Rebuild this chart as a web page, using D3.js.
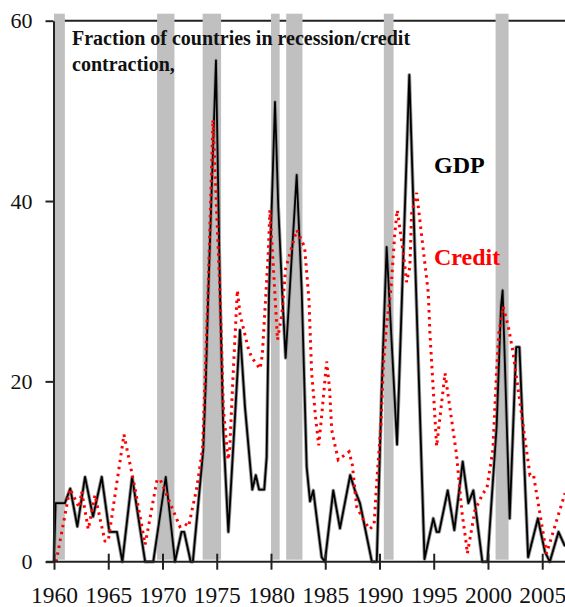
<!DOCTYPE html>
<html>
<head>
<meta charset="utf-8">
<script src="https://cdn.jsdelivr.net/npm/d3@7"></script>
<style>
  html, body { margin: 0; padding: 0; background: #fff; }
  #chart svg { display: block; }
  text { font-family: 'Liberation Serif', 'Times New Roman', serif; }
</style>
</head>
<body>
<div id="chart"></div>
<script>
// share of countries in recession (GDP) / credit contraction, by year
const gdpYears = [1960.0, 1960.15, 1961.0, 1961.5, 1962.15, 1962.86, 1963.6, 1964.4, 1965.1, 1965.8,
  1966.3, 1967.2, 1968.4, 1969.15, 1970.3, 1971.15, 1971.75, 1972.0, 1972.6, 1972.8,
  1973.76, 1974.0, 1974.22, 1974.93, 1975.3, 1975.6, 1976.07, 1977.14, 1977.6, 1978.28,
  1978.6, 1978.9, 1979.38, 1979.6, 1979.82, 1980.37, 1980.67, 1981.05, 1981.35, 1982.37,
  1982.83, 1983.29, 1983.6, 1983.9, 1984.67, 1984.97, 1985.74, 1986.36, 1987.3, 1987.74,
  1988.2, 1989.3, 1989.75, 1990.2, 1990.66, 1991.62, 1992.75, 1994.15, 1994.96, 1995.27,
  1995.5, 1996.29, 1996.9, 1997.67, 1998.19, 1998.65, 1999.48, 1999.95, 2000.8, 2001.2,
  2001.35, 2002.0, 2002.6, 2002.9, 2003.7, 2004.6, 2005.25, 2005.7, 2006.5, 2007.1];
const gdpValues = [0, 6.5, 6.5, 8.1, 3.9, 9.4, 5.0, 9.4, 3.3, 3.3,
  0, 9.4, 0, 0, 9.4, 0, 3.3, 3.3, 0, 0,
  12.4, 20.2, 29.8, 55.6, 29.8, 14.5, 3.3, 25.7, 17.2, 8.0,
  9.6, 8.0, 8.0, 11.6, 29.8, 51.0, 39.4, 29.4, 22.6, 42.9,
  30.1, 10.5, 6.7, 7.9, 0.5, 0, 7.9, 3.7, 9.6, 7.9,
  6.5, 0, 0, 19.0, 34.9, 13.0, 54.0, 0.3, 4.8, 3.3,
  3.3, 7.9, 3.5, 11.1, 6.5, 7.9, 0, 0, 15.0, 28.3,
  30.1, 4.8, 23.8, 23.8, 0.5, 4.8, 1.1, 0, 3.3, 1.7];

const creditYears = [1960.2, 1961.47, 1962.33, 1962.55, 1963.16, 1963.78, 1964.4, 1964.7, 1965.0, 1966.45,
  1967.47, 1968.4, 1969.5, 1969.8, 1971.6, 1972.07, 1972.4, 1973.15, 1973.7, 1974.2,
  1974.65, 1975.3, 1975.6, 1975.9, 1976.05, 1976.2, 1976.5, 1976.9, 1977.15, 1977.9,
  1978.2, 1978.99, 1979.2, 1979.75, 1979.9, 1980.3, 1980.6, 1981.0, 1981.35, 1982.37,
  1983.1, 1983.5, 1983.75, 1984.1, 1984.4, 1984.65, 1985.13, 1985.4, 1985.6, 1985.9,
  1986.2, 1987.2, 1987.5, 1987.9, 1988.5, 1989.1, 1989.5, 1989.74, 1990.14, 1990.35,
  1990.66, 1991.0, 1991.1, 1991.4, 1991.64, 1992.2, 1992.5, 1992.8, 1992.96, 1993.43,
  1994.5, 1994.65, 1995.27, 1996.04, 1997.1, 1997.6, 1998.0, 1998.1, 1998.8, 1999.55,
  1999.9, 2000.45, 2000.8, 2001.0, 2001.4, 2001.87, 2002.3, 2003.87, 2004.2, 2005.4,
  2007.1];
const creditValues = [0, 8.1, 6.0, 7.8, 3.6, 7.4, 3.9, 2.3, 2.3, 14.1,
  8.1, 1.9, 9.1, 9.1, 3.9, 4.2, 3.9, 8.1, 12.6, 29.8,
  49.0, 29.8, 17.2, 13.1, 11.3, 12.6, 20.5, 30.1, 27.4, 23.7,
  22.7, 21.4, 22.9, 34.2, 39.0, 31.0, 24.6, 27.4, 32.5, 36.8,
  34.9, 29.0, 20.9, 16.1, 12.9, 15.9, 22.2, 19.2, 14.6, 12.9,
  11.3, 12.2, 10.7, 6.1, 4.7, 3.6, 4.1, 8.7, 15.3, 21.6,
  26.4, 29.6, 30.9, 36.2, 39.0, 34.2, 31.0, 32.7, 38.6, 40.9,
  29.8, 25.3, 12.8, 20.9, 11.9, 5.5, 2.0, 0.9, 5.7, 7.6,
  8.1, 12.4, 21.3, 25.3, 28.3, 26.1, 23.3, 9.6, 9.6, 0.9,
  7.6];

// shaded periods
const bandStarts = [1960.0, 1969.5, 1973.7, 1980.0, 1981.4, 1990.4, 2000.7];
const bandEnds   = [1961.0, 1971.1, 1975.4, 1980.8, 1982.9, 1991.3, 2001.9];

const xTicks = [1960, 1965, 1970, 1975, 1980, 1985, 1990, 1995, 2000, 2005];
const yTicks = [0, 20, 40, 60];

const titleLines = ['Fraction of countries in recession/credit', 'contraction,'];
const seriesLabels = ['GDP', 'Credit'];

const width = 565;
const height = 607;

const svg = d3.select('#chart')
  .append('svg')
  .attr('width', width)
  .attr('height', height);

const x = d3.scaleLinear()
  .domain([1960, 2007.1])
  .range([54, 565]);

const y = d3.scaleLinear()
  .domain([0, 60])
  .range([561.7, 20.7]);

const gdp = gdpYears.map((d, i) => ({ year: d, value: gdpValues[i] }));
const credit = creditYears.map((d, i) => ({ year: d, value: creditValues[i] }));
const bands = bandStarts.map((d, i) => ({ start: d, end: bandEnds[i] }));

// top frame line
svg.append('line')
  .attr('x1', x(1960)).attr('x2', width)
  .attr('y1', y(60)).attr('y2', y(60))
  .attr('stroke', '#222')
  .attr('stroke-width', 2);

// recession bands
svg.append('g')
  .selectAll('rect')
  .data(bands)
  .enter()
  .append('rect')
  .attr('x', d => x(d.start))
  .attr('width', d => x(d.end) - x(d.start))
  .attr('y', y(60) - 7)
  .attr('height', y(0) - y(60) + 5)
  .attr('fill', '#c0c0c0');

// title
svg.append('g')
  .selectAll('text')
  .data(titleLines)
  .enter()
  .append('text')
  .attr('x', 72)
  .attr('y', (d, i) => 45 + i * 26)
  .attr('font-size', 20)
  .attr('font-weight', 'bold')
  .attr('fill', '#111')
  .text(d => d);

const line = d3.line()
  .x(d => x(d.year))
  .y(d => y(d.value));

// GDP: black line with a soft grey edge
svg.append('path')
  .datum(gdp)
  .attr('d', line)
  .attr('fill', 'none')
  .attr('stroke', '#999')
  .attr('stroke-width', 3.6)
  .attr('stroke-linejoin', 'round');

svg.append('path')
  .datum(gdp)
  .attr('d', line)
  .attr('fill', 'none')
  .attr('stroke', '#000')
  .attr('stroke-width', 1.8)
  .attr('stroke-linejoin', 'round');

// credit: red dotted
svg.append('path')
  .datum(credit)
  .attr('d', line)
  .attr('fill', 'none')
  .attr('stroke', '#ff0000')
  .attr('stroke-width', 3)
  .attr('stroke-dasharray', '2.5,4.5');

// axes
const xAxis = d3.axisBottom(x)
  .tickValues(xTicks)
  .tickFormat(d3.format('d'))
  .tickSizeInner(8)
  .tickSizeOuter(0);

const yAxis = d3.axisLeft(y)
  .tickValues(yTicks)
  .tickSizeInner(8)
  .tickSizeOuter(0);

const gx = svg.append('g')
  .attr('transform', `translate(0, ${y(0)})`)
  .call(xAxis);

gx.select('.domain')
  .attr('d', `M${x(1960) - 8},0H${width}`)
  .attr('stroke', '#222')
  .attr('stroke-width', 2);

gx.selectAll('.tick line')
  .attr('y1', -8)
  .attr('y2', 8)
  .attr('stroke', '#222')
  .attr('stroke-width', 2);

gx.selectAll('.tick text')
  .attr('y', 41.5)
  .attr('dy', 0)
  .attr('font-size', 23.5)
  .attr('font-family', "'Liberation Serif', 'Times New Roman', serif")
  .attr('fill', '#111');

const gy = svg.append('g')
  .attr('transform', `translate(${x(1960) - 0.5}, 0)`)
  .call(yAxis);

gy.select('.domain')
  .attr('stroke', '#222')
  .attr('stroke-width', 2);

gy.selectAll('.tick line')
  .attr('stroke', '#222')
  .attr('stroke-width', 2);

gy.selectAll('.tick text')
  .attr('x', -21)
  .attr('dy', '0.33em')
  .attr('font-size', 22)
  .attr('font-family', "'Liberation Serif', 'Times New Roman', serif")
  .attr('fill', '#111');

// series labels
svg.append('text')
  .attr('x', 434)
  .attr('y', 173)
  .attr('font-size', 24)
  .attr('font-weight', 'bold')
  .attr('fill', '#000')
  .text(seriesLabels[0]);

svg.append('text')
  .attr('x', 434)
  .attr('y', 265)
  .attr('font-size', 24)
  .attr('font-weight', 'bold')
  .attr('fill', '#ff0000')
  .text(seriesLabels[1]);
</script>
</body>
</html>
